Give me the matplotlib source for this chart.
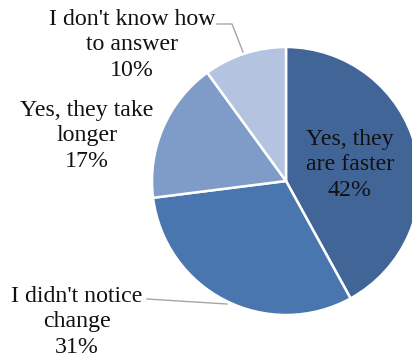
import matplotlib
matplotlib.use("Agg")
import matplotlib.pyplot as plt

categories = ["Yes, they\nare faster", "I didn't notice\nchange", "Yes, they take\nlonger", "I don't know how\nto answer"]
values = [42, 31, 17, 10]
colors = ["#426598", "#4A76AF", "#7F9CC8", "#B4C4E0"]

W, H = 412, 362
fig = plt.figure(figsize=(W / 100, H / 100), dpi=100)
ax = fig.add_axes([0, 0, 1, 1])
ax.set_xlim(0, W)
ax.set_ylim(0, H)
ax.set_aspect("equal")
ax.axis("off")

cx, cy, r = 286, H - 181, 134
ax.pie(values, colors=colors, startangle=90, counterclock=False,
       center=(cx, cy), radius=r, frame=True,
       wedgeprops=dict(edgecolor="white", linewidth=1.8))
ax.set_xlim(0, W)
ax.set_ylim(0, H)
ax.axis("off")

font = dict(family="Liberation Serif", size=17.2, color="#111111",
            ha="center", va="center", linespacing=1.27)

# label positions (pixels, top-left origin)
label_pos = [(350, 165), (77, 322), (87, 136), (132, 45)]
for cat, v, (x, y) in zip(categories, values, label_pos):
    ax.text(x, H - y, f"{cat}\n{v}%", **font)

# leader lines
lc = "#A6A6A6"
ax.plot([217, 232, 243], [H - 24, H - 24, H - 52], color=lc, lw=1.0)
ax.plot([147, 227], [H - 299, H - 304], color=lc, lw=1.0)

fig.savefig("out.png", dpi=100)
